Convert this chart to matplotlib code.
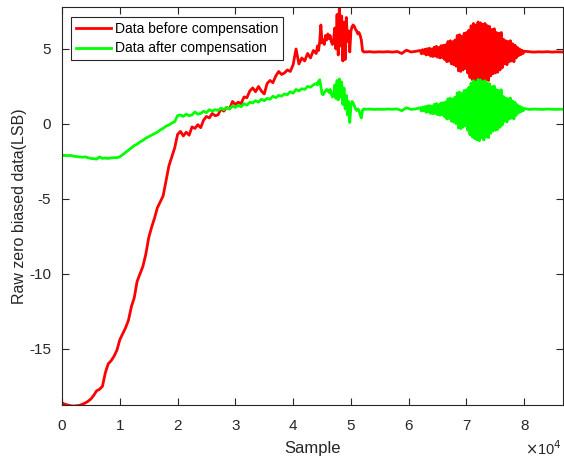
import numpy as np
import matplotlib
matplotlib.use("Agg")
import matplotlib.pyplot as plt

plt.rcParams['font.family'] = ['Liberation Sans', 'DejaVu Sans']
plt.rcParams['axes.unicode_minus'] = False

# --- data: readings per segment (start sample, step, values) ---
drift_start, drift_step = 0, 500
red_drift = [
    -18.60, -18.70, -18.75, -18.80, -18.82, -18.80, -18.78, -18.70, -18.62, -18.50,
    -18.35, -18.10, -17.80, -17.70, -17.50, -16.60, -16.00, -15.80, -15.50, -15.10,
    -14.40, -14.00, -13.60, -13.10, -12.20, -11.60, -10.50, -10.00, -9.50, -8.70,
    -7.60, -6.90, -6.30, -5.60, -5.20, -4.80, -3.80, -2.80, -2.20, -1.60,
    -0.70, -0.50, -0.80, -0.55, -0.75, -0.20, -0.30, -0.05, -0.25, 0.25,
    0.50, 0.40, 0.70, 0.55, 0.60, 1.00, 0.85, 1.10, 1.00, 1.50,
    1.30, 1.45, 1.35, 1.80, 1.75, 2.20, 2.40, 2.15, 2.50, 2.20,
    2.00, 2.70, 2.90, 2.75, 3.20, 3.50, 3.30, 3.40, 3.60, 3.50,
    3.95, 5.00, 4.00, 4.40, 4.20, 4.70, 4.40, 4.90,
]
green_drift = [
    -2.10, -2.10, -2.12, -2.10, -2.15, -2.18, -2.20, -2.22, -2.20, -2.25,
    -2.30, -2.32, -2.35, -2.20, -2.30, -2.28, -2.30, -2.27, -2.25, -2.25,
    -2.20, -2.05, -1.90, -1.75, -1.60, -1.45, -1.35, -1.20, -1.10, -0.95,
    -0.85, -0.75, -0.65, -0.55, -0.40, -0.30, -0.15, -0.07, 0.05, 0.15,
    0.55, 0.60, 0.50, 0.65, 0.55, 0.60, 0.80, 0.65, 0.70, 0.85,
    0.75, 0.95, 0.85, 0.95, 0.90, 1.05, 0.95, 1.10, 1.00, 1.20,
    1.10, 1.25, 1.15, 1.35, 1.25, 1.45, 1.40, 1.55, 1.45, 1.65,
    1.55, 1.70, 1.65, 1.85, 1.75, 1.90, 1.85, 2.00, 1.95, 2.15,
    2.05, 2.30, 2.20, 2.35, 2.30, 2.50, 2.45, 2.60,
]

shock_start, shock_step = 44000, 200
red_shock = [
    4.70, 5.20, 4.90, 5.50, 6.60, 5.40, 5.60, 5.30, 5.90, 5.60,
    6.00, 5.70, 5.90, 5.50, 5.30, 5.60, 6.40, 5.00, 7.30, 4.60,
    7.80, 5.20, 7.20, 4.20, 6.80, 4.30, 7.10, 5.50, 6.20, 4.80,
    6.20, 6.50, 6.60, 6.50, 6.30, 6.20, 6.00, 6.10, 5.90, 5.60,
    4.90, 4.80,
]
green_shock = [
    2.70, 2.60, 2.85, 2.95, 2.50, 2.00, 1.95, 2.10, 2.20, 2.30,
    2.25, 2.10, 2.30, 2.00, 1.80, 1.90, 2.60, 1.70, 2.90, 1.60,
    3.00, 1.80, 2.80, 1.30, 2.40, 1.00, 1.90, 0.60, 1.50, 0.10,
    1.20, 1.50, 1.40, 1.20, 1.00, 0.90, 1.00, 0.90, 0.60, 0.40,
    0.90, 1.00,
]

quiet1_start, quiet1_step = 52400, 800
red_quiet1 = [4.80, 4.82, 4.79, 4.81, 4.80, 4.82, 4.79, 4.83, 4.70, 4.92, 4.80, 4.84]
green_quiet1 = [0.98, 0.99, 0.97, 0.98, 0.97, 0.99, 0.98, 1.00, 0.88, 1.08, 0.97, 1.00]

burst_start, burst_step = 62000, 200
red_burst = [
    4.90, 4.68, 4.95, 4.70, 4.98, 4.60, 5.02, 4.62, 5.05, 4.52,
    5.00, 4.50, 5.12, 4.52, 5.18, 4.45, 5.10, 4.40, 5.22, 4.42,
    5.25, 4.30, 5.28, 4.15, 5.50, 4.18, 5.55, 4.00, 5.48, 3.95,
    5.60, 3.85, 5.90, 3.55, 5.95, 3.50, 5.85, 3.60, 6.05, 3.70,
    6.10, 3.40, 6.25, 3.10, 6.55, 2.95, 6.70, 2.85, 6.60, 2.75,
    6.80, 2.70, 6.75, 2.90, 6.65, 2.75, 6.70, 2.95, 6.55, 2.90,
    6.50, 3.20, 6.30, 3.35, 6.35, 3.40, 6.10, 3.45, 6.05, 3.60,
    6.10, 3.75, 5.65, 4.00, 5.55, 3.95, 5.50, 4.15, 5.55, 4.20,
    5.35, 4.15, 5.25, 4.40, 5.10, 4.55, 5.00, 4.62, 4.92, 4.70,
    4.85,
]
green_burst = [
    1.08, 0.86, 1.12, 0.88, 1.15, 0.78, 1.20, 0.80, 1.22, 0.70,
    1.18, 0.68, 1.30, 0.70, 1.36, 0.62, 1.28, 0.58, 1.40, 0.60,
    1.42, 0.48, 1.46, 0.32, 1.68, 0.36, 1.72, 0.18, 1.66, 0.12,
    1.78, 0.02, 2.08, -0.27, 2.12, -0.32, 2.03, -0.22, 2.23, -0.12,
    2.28, -0.42, 2.43, -0.72, 2.73, -0.87, 2.88, -0.97, 2.78, -1.07,
    2.96, -1.12, 2.93, -0.92, 2.83, -1.07, 2.88, -0.87, 2.73, -0.92,
    2.68, -0.62, 2.48, -0.47, 2.53, -0.42, 2.28, -0.37, 2.23, -0.22,
    2.28, -0.07, 1.83, 0.18, 1.73, 0.13, 1.68, 0.33, 1.73, 0.38,
    1.53, 0.33, 1.43, 0.58, 1.28, 0.73, 1.18, 0.80, 1.10, 0.88,
    1.03,
]

quiet2_start, quiet2_step = 80800, 800
red_quiet2 = [4.82, 4.79, 4.81, 4.80, 4.82, 4.79, 4.81, 4.80, 4.80]
green_quiet2 = [0.97, 0.99, 0.98, 0.97, 0.99, 0.98, 0.97, 0.98, 0.98]

segments = [
    (drift_start, drift_step, red_drift, green_drift),
    (shock_start, shock_step, red_shock, green_shock),
    (quiet1_start, quiet1_step, red_quiet1, green_quiet1),
    (burst_start, burst_step, red_burst, green_burst),
    (quiet2_start, quiet2_step, red_quiet2, green_quiet2),
]

x_ticks = [0, 10000, 20000, 30000, 40000, 50000, 60000, 70000, 80000]
x_tick_labels = ['0', '1', '2', '3', '4', '5', '6', '7', '8']
y_ticks = [-15, -10, -5, 0, 5]

# --- assemble sample axis ---
sample, before, after = [], [], []
for start, step, red, green in segments:
    sample.append(start + step * np.arange(len(red)))
    before.append(red)
    after.append(green)
sample = np.concatenate(sample)
before = np.concatenate(before)
after = np.concatenate(after)

# --- plot ---
fig = plt.figure(figsize=(5.64, 4.59), dpi=100)
ax = fig.add_axes([62 / 564, 54 / 459, 501 / 564, 398 / 459])

ax.plot(sample, before, color=(1, 0, 0), lw=2.0, label='Data before compensation')
ax.plot(sample, after, color=(0, 1, 0), lw=2.0, label='Data after compensation')

ax.set_xlim(0, 86700)
ax.set_ylim(-18.75, 7.8)
ax.set_xticks(x_ticks)
ax.set_xticklabels(x_tick_labels)
ax.set_yticks(y_ticks)

edge = '#262626'
for s in ax.spines.values():
    s.set_color(edge)
    s.set_linewidth(0.8)
ax.tick_params(direction='in', length=5, width=0.8, colors=edge,
               labelsize=11, top=True, right=True)
ax.tick_params(axis='x', pad=10)
ax.tick_params(axis='y', pad=8)

ax.set_xlabel('Sample', fontsize=12, color=edge, labelpad=6)
ax.set_ylabel('Raw zero biased data(LSB)', fontsize=11.5, color=edge, labelpad=1)
fig.text(525 / 564, 1 / 459, r'$\times$10$^4$', fontsize=10.5, color=edge,
         ha='left', va='bottom')

leg = ax.legend(loc='upper left', bbox_to_anchor=(9 / 501, 1 - 10 / 398),
                borderaxespad=0, fontsize=10, fancybox=False, framealpha=1,
                handlelength=2.5, handletextpad=0.3, borderpad=0.35,
                labelspacing=0.4)
leg.get_frame().set_edgecolor(edge)
leg.get_frame().set_linewidth(0.8)

fig.savefig('out.png', dpi=100)
